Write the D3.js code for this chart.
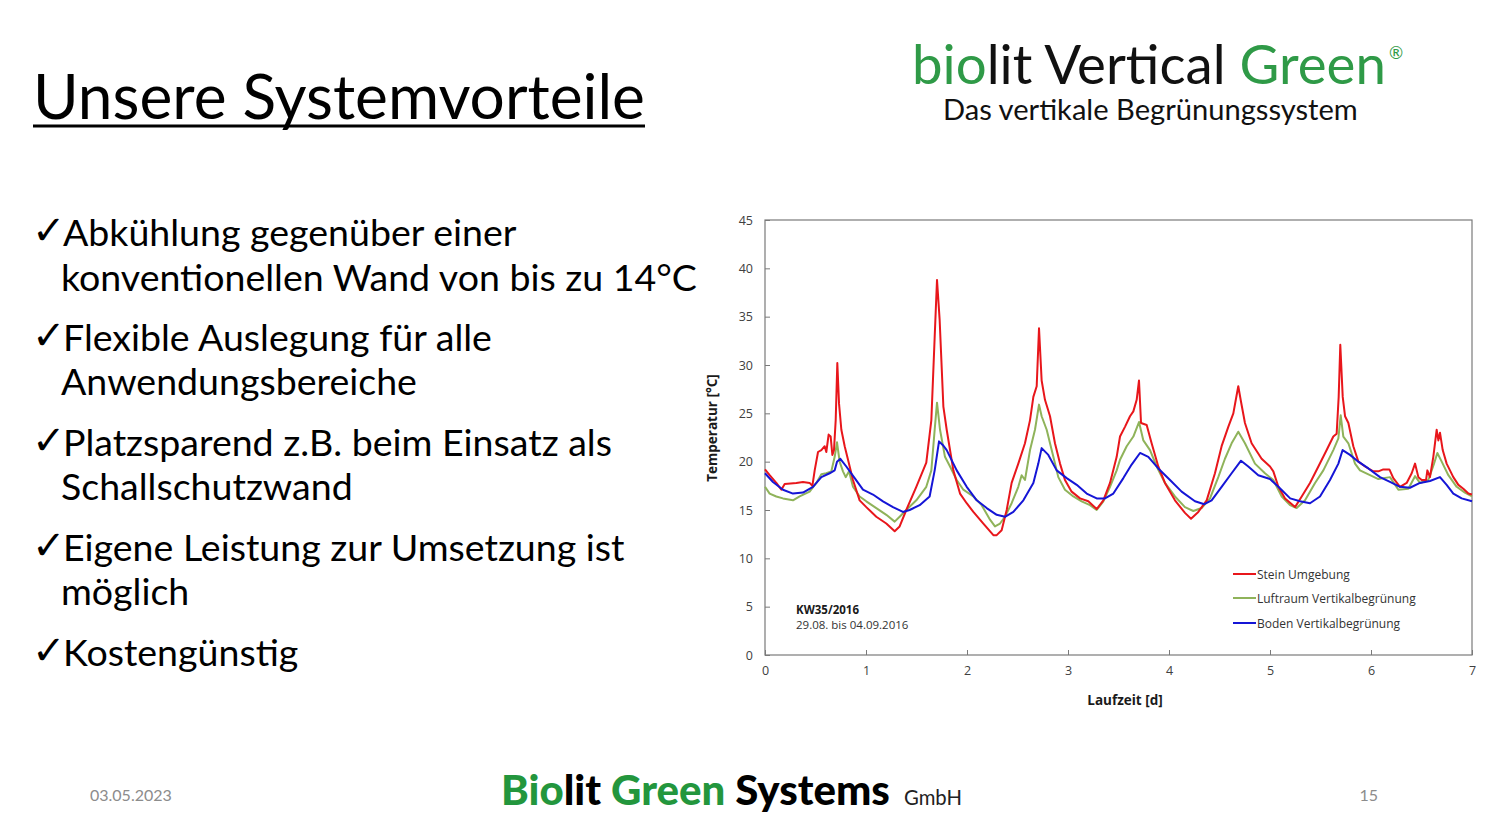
<!DOCTYPE html>
<html>
<head>
<meta charset="utf-8">
<script src="https://cdn.jsdelivr.net/npm/d3@7"></script>
<style>
  html, body { margin: 0; padding: 0; background: #ffffff; }
  svg { display: block; }
</style>
</head>
<body>
<svg id="slide" width="1491" height="829"></svg>
<script>
// ---------------- DATA ----------------
const titleText = "Unsere Systemvorteile";
const bulletLines = [
  ["Abkühlung gegenüber einer", "konventionellen Wand von bis zu 14°C"],
  ["Flexible Auslegung für alle", "Anwendungsbereiche"],
  ["Platzsparend z.B. beim Einsatz als", "Schallschutzwand"],
  ["Eigene Leistung zur Umsetzung ist", "möglich"],
  ["Kostengünstig"]
];
const seriesNames = ["Stein Umgebung", "Luftraum Vertikalbegrünung", "Boden Vertikalbegrünung"];
const seriesColors = ["#e8161b", "#8fb35a", "#1515d6"];
const yTicks = [0, 5, 10, 15, 20, 25, 30, 35, 40, 45];
const xTicks = [0, 1, 2, 3, 4, 5, 6, 7];
const yTitle = "Temperatur [°C]";
const xTitle = "Laufzeit [d]";
const noteBold = "KW35/2016";
const noteText = "29.08. bis 04.09.2016";

const redDays = [0,0.046,0.112,0.162,0.195,0.310,0.376,0.442,0.469,0.492,0.525,0.558,0.591,0.607,0.630,0.650,0.667,0.683,0.700,0.716,0.733,0.756,0.789,0.822,0.871,0.937,1.003,1.102,1.201,1.284,1.333,1.399,1.498,1.597,1.647,1.680,1.703,1.729,1.766,1.799,1.865,1.931,1.997,2.063,2.162,2.261,2.294,2.343,2.393,2.442,2.508,2.574,2.624,2.657,2.690,2.713,2.739,2.772,2.822,2.871,2.921,2.970,3.036,3.119,3.201,3.284,3.350,3.416,3.482,3.515,3.564,3.614,3.647,3.680,3.703,3.723,3.779,3.828,3.894,3.960,4.059,4.158,4.218,4.290,4.373,4.455,4.521,4.587,4.637,4.670,4.686,4.713,4.752,4.818,4.917,5.000,5.033,5.083,5.149,5.248,5.314,5.396,5.479,5.561,5.627,5.660,5.680,5.696,5.720,5.743,5.776,5.825,5.875,5.941,6.023,6.073,6.122,6.182,6.221,6.287,6.353,6.403,6.436,6.469,6.502,6.545,6.558,6.584,6.617,6.650,6.667,6.683,6.710,6.749,6.815,6.865,6.914,6.964,7.0];
const redTemps = [19.2,18.6,17.8,17.1,17.7,17.8,17.9,17.8,17.5,19.1,21.0,21.2,21.6,21.0,22.8,22.6,20.7,21.2,24.3,30.2,26.0,23.3,21.6,20.2,18.1,16.0,15.3,14.3,13.6,12.8,13.3,15.0,17.4,19.9,24.3,32.9,38.8,34.7,25.7,23.3,19.1,16.7,15.7,14.8,13.6,12.4,12.4,12.9,15.0,17.8,19.8,21.9,24.3,26.7,27.8,33.8,28.4,26.4,24.7,21.9,19.8,18.1,16.9,16.2,15.9,15.1,16.0,17.8,20.5,22.6,23.6,24.7,25.2,26.4,28.4,24.0,23.8,21.9,19.5,17.8,16.0,14.7,14.1,14.8,16.0,18.8,21.6,23.6,25.0,26.9,27.8,26.2,24.0,21.9,20.3,19.5,19.0,17.4,16.2,15.3,16.4,17.8,19.5,21.2,22.6,22.9,26.7,32.1,26.7,24.7,24.0,21.6,20.0,19.5,19.0,19.0,19.2,19.2,18.3,17.4,17.8,18.8,19.8,18.4,18.1,18.1,19.1,18.4,20.5,23.3,22.2,23.0,21.2,19.8,18.4,17.6,17.2,16.7,16.6];

const greenDays = [0,0.046,0.112,0.178,0.277,0.343,0.442,0.508,0.558,0.607,0.657,0.690,0.713,0.739,0.772,0.799,0.832,0.871,0.937,1.003,1.102,1.201,1.284,1.333,1.399,1.498,1.597,1.647,1.680,1.703,1.733,1.782,1.832,1.898,1.964,2.063,2.145,2.228,2.277,2.327,2.376,2.442,2.508,2.541,2.574,2.624,2.673,2.713,2.739,2.789,2.855,2.904,2.970,3.053,3.135,3.218,3.284,3.350,3.416,3.482,3.515,3.581,3.647,3.703,3.746,3.812,3.878,3.960,4.059,4.158,4.241,4.323,4.406,4.488,4.554,4.620,4.686,4.752,4.851,4.950,5.033,5.116,5.198,5.264,5.347,5.446,5.528,5.627,5.677,5.700,5.726,5.776,5.842,5.891,5.990,6.073,6.188,6.271,6.370,6.436,6.485,6.568,6.624,6.657,6.700,6.766,6.848,6.930,7.0];
const greenTemps = [17.4,16.7,16.4,16.2,16.0,16.4,16.9,17.8,18.7,18.8,19.0,20.5,22.0,20.0,19.0,18.4,19.0,17.4,16.4,15.9,15.2,14.5,13.8,14.3,15.0,16.0,17.4,19.1,23.3,26.1,23.3,20.5,19.5,18.1,17.1,16.4,15.5,14.0,13.3,13.6,14.3,15.7,17.4,18.6,18.1,21.2,23.3,25.9,24.7,23.3,20.5,18.4,17.1,16.4,15.9,15.5,15.0,15.9,17.4,19.1,20.2,21.6,22.6,24.1,22.2,21.2,19.5,17.8,16.4,15.3,14.9,15.2,16.2,18.4,20.3,21.9,23.1,21.9,19.8,18.8,18.1,16.4,15.5,15.2,16.0,17.8,19.1,21.2,22.4,24.8,22.6,21.9,19.8,19.1,18.6,18.2,18.4,17.1,17.2,18.5,17.8,18.1,19.8,20.9,20.0,18.6,17.4,16.8,16.4];

const blueDays = [0,0.079,0.178,0.277,0.376,0.475,0.558,0.640,0.690,0.713,0.746,0.805,0.888,0.970,1.069,1.168,1.267,1.366,1.432,1.531,1.630,1.680,1.723,1.762,1.799,1.898,1.997,2.096,2.195,2.294,2.376,2.459,2.558,2.657,2.706,2.739,2.805,2.888,2.987,3.086,3.185,3.284,3.366,3.449,3.548,3.630,3.713,3.795,3.894,4.010,4.125,4.257,4.350,4.422,4.521,4.620,4.713,4.785,4.884,5.000,5.083,5.200,5.297,5.396,5.495,5.594,5.677,5.719,5.792,5.875,5.974,6.089,6.188,6.287,6.386,6.485,6.584,6.683,6.749,6.815,6.898,7.0];
const blueTemps = [18.8,17.9,17.1,16.7,16.8,17.4,18.4,18.8,19.1,20.0,20.3,19.5,18.3,17.1,16.6,15.9,15.3,14.8,15.0,15.5,16.4,19.1,22.1,21.7,21.2,19.1,17.4,16.0,15.2,14.5,14.3,14.8,16.0,17.8,19.8,21.4,20.7,19.1,18.3,17.6,16.7,16.2,16.2,16.7,18.3,19.7,20.9,20.5,19.3,18.1,16.9,15.9,15.6,16.0,17.4,18.8,20.1,19.5,18.6,18.2,17.4,16.2,15.9,15.7,16.4,18.1,19.8,21.2,20.7,20.0,19.3,18.4,17.9,17.4,17.3,17.8,18.0,18.4,17.6,16.7,16.2,15.9];

// ---------------- HELPERS ----------------
const svg = d3.select("#slide");
svg.append("rect").attr("width", 1491).attr("height", 829).attr("fill", "#fff");

function fitWidth(sel, target) {
  const w = sel.node().getComputedTextLength();
  const fs = parseFloat(sel.attr("font-size"));
  sel.attr("font-size", fs * target / w);
  return fs * target / w;
}
const slideFont = "Lato, 'Open Sans', sans-serif";
const chartFont = "'Open Sans', 'Noto Sans', sans-serif";

// ---------------- TITLE ----------------
const title = svg.append("text").attr("x", 33).attr("y", 119)
  .attr("font-family", slideFont).attr("font-size", 60).attr("fill", "#000")
  .text(titleText);
fitWidth(title, 612);
svg.append("line").attr("x1", 33).attr("x2", 645).attr("y1", 126).attr("y2", 126)
  .attr("stroke", "#000").attr("stroke-width", 3);

// ---------------- LOGO ----------------
const logo = svg.append("text").attr("x", 912).attr("y", 84)
  .attr("font-family", slideFont).attr("font-size", 50);
logo.append("tspan").attr("fill", "#2f9a47").text("bio");
logo.append("tspan").attr("fill", "#111").text("lit Vertical ");
logo.append("tspan").attr("fill", "#2f9a47").text("Green");
fitWidth(logo, 474);
svg.append("text").attr("x", 1389).attr("y", 59).attr("font-family", slideFont)
  .attr("font-size", 17).attr("fill", "#2f9a47").text("®");
const sub = svg.append("text").attr("x", 943).attr("y", 120)
  .attr("font-family", slideFont).attr("font-size", 28).attr("fill", "#111")
  .text("Das vertikale Begrünungssystem");
fitWidth(sub, 415);

// ---------------- BULLETS ----------------
const bulletBaselines = [[246, 291], [351, 395], [456, 500], [561, 605], [666]];
const bg = svg.append("g").attr("font-family", slideFont).attr("fill", "#000");
const probe = bg.append("text").attr("font-size", 36).text(bulletLines[0][1]);
const bfs = fitWidth(probe, 636);
probe.remove();
bulletLines.forEach((lines, i) => {
  bg.append("text").attr("x", 32).attr("y", bulletBaselines[i][0] - 2)
    .attr("font-size", 40).attr("font-family", "'DejaVu Sans', sans-serif").text("✓");
  lines.forEach((ln, j) => {
    bg.append("text").attr("x", j === 0 ? 63 : 61).attr("y", bulletBaselines[i][j])
      .attr("font-size", bfs).text(ln);
  });
});

// ---------------- CHART ----------------
const plot = { left: 765, right: 1472, top: 220, bottom: 655 };
const x = d3.scaleLinear().domain([0, 7]).range([plot.left, plot.right]);
const y = d3.scaleLinear().domain([0, 45]).range([plot.bottom, plot.top]);

const chart = svg.append("g").attr("font-family", chartFont);

chart.append("rect").attr("x", plot.left).attr("y", plot.top)
  .attr("width", plot.right - plot.left).attr("height", plot.bottom - plot.top)
  .attr("fill", "none").attr("stroke", "#7a7a7a").attr("stroke-width", 1.2);

const yAxis = chart.append("g").attr("transform", `translate(${plot.left},0)`)
  .call(d3.axisLeft(y).tickValues(yTicks).tickFormat(d3.format("d")).tickSize(-5).tickPadding(12));
const xAxis = chart.append("g").attr("transform", `translate(0,${plot.bottom})`)
  .call(d3.axisBottom(x).tickValues(xTicks).tickFormat(d3.format("d")).tickSize(-5).tickPadding(11));
[yAxis, xAxis].forEach(a => {
  a.select(".domain").remove();
  a.selectAll(".tick line").attr("stroke", "#7a7a7a");
  a.selectAll(".tick text").attr("font-family", chartFont).attr("font-size", 12.5).attr("fill", "#404040");
});

const series = [
  { days: redDays, temps: redTemps },
  { days: greenDays, temps: greenTemps },
  { days: blueDays, temps: blueTemps }
];
const line = d3.line().x(d => x(d[0])).y(d => y(d[1]));
[1, 0, 2].forEach(i => {
  const pts = series[i].days.map((d, k) => [d, series[i].temps[k]]);
  chart.append("path").datum(pts).attr("d", line)
    .attr("fill", "none").attr("stroke", seriesColors[i]).attr("stroke-width", 2)
    .attr("stroke-linejoin", "round");
});

// axis titles
chart.append("text").attr("transform", `translate(717,428) rotate(-90)`)
  .attr("text-anchor", "middle").attr("font-size", 13.5).attr("font-weight", "bold")
  .attr("fill", "#1a1a1a").text(yTitle);
chart.append("text").attr("x", 1125).attr("y", 705).attr("text-anchor", "middle")
  .attr("font-size", 13.5).attr("font-weight", "bold").attr("fill", "#1a1a1a").text(xTitle);

// note
chart.append("text").attr("x", 796).attr("y", 614).attr("font-size", 11.5)
  .attr("font-weight", "bold").attr("fill", "#1a1a1a").text(noteBold);
chart.append("text").attr("x", 796).attr("y", 629).attr("font-size", 11.5)
  .attr("fill", "#333").text(noteText);

// legend
const legendY = [574, 598, 623];
seriesNames.forEach((name, i) => {
  chart.append("line").attr("x1", 1233).attr("x2", 1256)
    .attr("y1", legendY[i]).attr("y2", legendY[i])
    .attr("stroke", seriesColors[i]).attr("stroke-width", 2);
  chart.append("text").attr("x", 1257).attr("y", legendY[i] + 4.5)
    .attr("font-size", 12).attr("fill", "#333").text(name);
});

// ---------------- FOOTER ----------------
svg.append("text").attr("x", 90).attr("y", 801).attr("font-family", slideFont)
  .attr("font-size", 16).attr("fill", "#8c8c8c").text("03.05.2023");
svg.append("text").attr("x", 1378).attr("y", 801).attr("text-anchor", "end")
  .attr("font-family", slideFont).attr("font-size", 16).attr("fill", "#8c8c8c").text("15");
const foot = svg.append("text").attr("x", 501).attr("y", 805)
  .attr("font-family", slideFont).attr("font-weight", 900).attr("font-size", 38);
foot.append("tspan").attr("fill", "#23963d").text("Bio");
foot.append("tspan").attr("fill", "#000").text("lit ");
foot.append("tspan").attr("fill", "#23963d").text("Green ");
foot.append("tspan").attr("fill", "#000").text("Systems");
fitWidth(foot, 389);
const gmbh = svg.append("text").attr("x", 904).attr("y", 805)
  .attr("font-family", slideFont).attr("font-size", 20).attr("fill", "#222").text("GmbH");
fitWidth(gmbh, 58);
</script>
</body>
</html>
